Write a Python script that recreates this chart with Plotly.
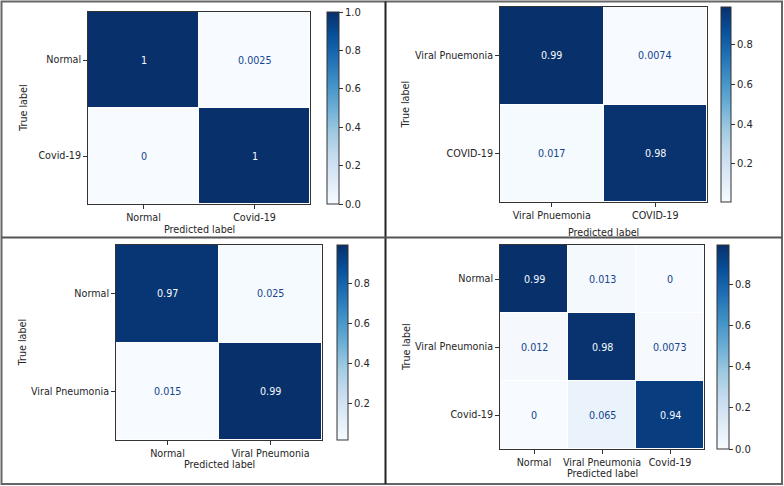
import plotly.graph_objects as go

W, H = 784, 486

# ---- data ----
labels_1 = ["Normal", "Covid-19"]
values_1 = [[1, 0.0025],
            [0, 1]]

labels_2 = ["Viral Pnuemonia", "COVID-19"]
values_2 = [[0.99, 0.0074],
            [0.017, 0.98]]

labels_3 = ["Normal", "Viral Pneumonia"]
values_3 = [[0.97, 0.025],
            [0.015, 0.99]]

labels_4 = ["Normal", "Viral Pneumonia", "Covid-19"]
values_4 = [[0.99, 0.013, 0],
            [0.012, 0.98, 0.0073],
            [0, 0.065, 0.94]]

cb_ticks_1 = [0.0, 0.2, 0.4, 0.6, 0.8, 1.0]
cb_ticks_2 = [0.2, 0.4, 0.6, 0.8]
cb_ticks_3 = [0.2, 0.4, 0.6, 0.8]
cb_ticks_4 = [0.0, 0.2, 0.4, 0.6, 0.8]

# matplotlib "Blues"
BLUES = ["rgb(247,251,255)", "rgb(222,235,247)", "rgb(198,219,239)",
         "rgb(158,202,225)", "rgb(107,174,214)", "rgb(66,146,198)",
         "rgb(33,113,181)", "rgb(8,81,156)", "rgb(8,48,107)"]
colorscale = [[i / (len(BLUES) - 1), c] for i, c in enumerate(BLUES)]

FONT = "DejaVu Sans"
TXT = "#262626"
LINE = "#333333"
FS = 9.6

# panels: (labels, values, ticks, heat px box [x0,x1,y0,y1], colorbar px [x0,x1,y0,y1],
#          xtitle y px, ytitle x px)
panels = [
    (labels_1, values_1, cb_ticks_1, [88, 310, 12, 204], [327, 339, 12, 204], 229, 23),
    (labels_2, values_2, cb_ticks_2, [500, 707, 7, 202], [721, 731, 7, 202], 232, 405),
    (labels_3, values_3, cb_ticks_3, [116, 322, 245, 440], [337, 348, 245, 440], 464, 22),
    (labels_4, values_4, cb_ticks_4, [500, 704, 245, 449], [717, 729, 245, 449], 473, 406),
]

fig = go.Figure()
annotations = []
layout_axes = {}

for i, (labs, vals, ticks, hb, cb, xt_y, yt_x) in enumerate(panels, start=1):
    xa = "x" if i == 1 else f"x{i}"
    ya = "y" if i == 1 else f"y{i}"
    flat = [v for row in vals for v in row]
    zmin, zmax = min(flat), max(flat)
    fig.add_trace(go.Heatmap(
        z=vals, x=labs, y=labs, xaxis=xa, yaxis=ya,
        colorscale=colorscale, zmin=zmin, zmax=zmax,
        xgap=1, ygap=1, hoverinfo="skip",
        colorbar=dict(
            x=cb[0] / W, xanchor="left", xpad=0, ypad=0,
            y=1 - cb[2] / H, yanchor="top",
            lenmode="pixels", len=cb[3] - cb[2],
            thickness=cb[1] - cb[0],
            outlinewidth=1, outlinecolor=LINE,
            tickvals=ticks, ticktext=[f"{t:.1f}" for t in ticks],
            ticks="outside", ticklen=4, tickcolor=LINE,
            tickfont=dict(family=FONT, size=FS + 0.4, color=TXT),
        ),
    ))
    common = dict(showline=True, linecolor=LINE, linewidth=1, mirror=True,
                  ticks="outside", ticklen=4, tickcolor=LINE, tickangle=0,
                  tickfont=dict(family=FONT, size=FS, color=TXT),
                  showgrid=False, zeroline=False, automargin=False,
                  fixedrange=True)
    layout_axes["xaxis" if i == 1 else f"xaxis{i}"] = dict(
        domain=[hb[0] / W, hb[1] / W], anchor=ya, **common)
    layout_axes["yaxis" if i == 1 else f"yaxis{i}"] = dict(
        domain=[1 - hb[3] / H, 1 - hb[2] / H], anchor=xa,
        autorange="reversed", **common)

    thr = (zmax + zmin) / 2
    for r, row in enumerate(vals):
        for c, v in enumerate(row):
            annotations.append(dict(
                x=labs[c], y=labs[r], xref=xa, yref=ya,
                text=format(v, ".2g"), showarrow=False,
                font=dict(family=FONT, size=FS,
                          color="rgb(247,251,255)" if v > thr else "rgb(20,68,140)"),
            ))
    # axis titles
    annotations.append(dict(
        x=(hb[0] + hb[1]) / 2 / W, y=1 - xt_y / H, xref="paper", yref="paper",
        text="Predicted label", showarrow=False, xanchor="center", yanchor="middle",
        font=dict(family=FONT, size=FS, color=TXT)))
    annotations.append(dict(
        x=yt_x / W, y=1 - (hb[2] + hb[3]) / 2 / H, xref="paper", yref="paper",
        text="True label", showarrow=False, textangle=-90,
        xanchor="center", yanchor="middle",
        font=dict(family=FONT, size=FS, color=TXT)))

# panel borders
border = dict(type="line", xref="paper", yref="paper",
              line=dict(color="#555555", width=2))
shapes = [
    dict(type="rect", xref="paper", yref="paper",
         x0=1.5 / W, x1=(W - 2) / W, y0=1 - 484 / H, y1=1 - 1.5 / H,
         line=dict(color="#666666", width=2)),
    dict(border, x0=385.5 / W, x1=385.5 / W, y0=1 - 484 / H, y1=1 - 1.5 / H,
         line=dict(color="#222222", width=2)),
    dict(border, x0=1.5 / W, x1=(W - 2) / W, y0=1 - 237.5 / H, y1=1 - 237.5 / H),
]

fig.update_layout(
    width=W, height=H,
    margin=dict(l=0, r=0, t=0, b=0),
    paper_bgcolor="white", plot_bgcolor="white",
    showlegend=False,
    annotations=annotations, shapes=shapes,
    font=dict(family=FONT, size=FS, color=TXT),
    **layout_axes,
)

fig.write_html("out.html",
               config={"displayModeBar": False, "staticPlot": True},
               post_script="document.body.style.margin='0';document.body.style.padding='0';")
